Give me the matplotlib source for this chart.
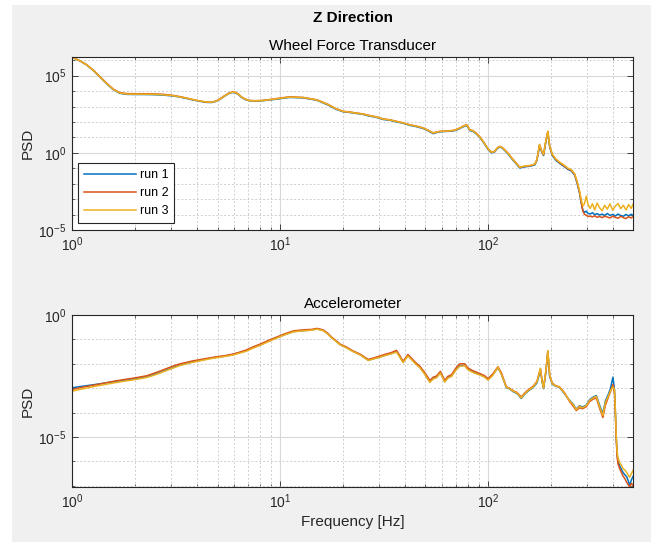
import matplotlib
matplotlib.use("Agg")
import matplotlib.pyplot as plt
from matplotlib.patches import Rectangle
from matplotlib.ticker import FixedLocator, LogFormatterSciNotation, NullFormatter
import numpy as np

plt.rcParams['font.family'] = ['Liberation Sans', 'DejaVu Sans']
plt.rcParams['mathtext.fontset'] = 'custom'
plt.rcParams['mathtext.rm'] = 'Liberation Sans'
plt.rcParams['mathtext.it'] = 'Liberation Sans:italic'
plt.rcParams['mathtext.bf'] = 'Liberation Sans:bold'

# ---------------- data (log10 of PSD) ----------------
series_labels = ["run 1", "run 2", "run 3"]
series_colors = ["#0072BD", "#D95319", "#EDB120"]

wft_freq = [1.0, 1.08, 1.17, 1.27, 1.36, 1.47, 1.57, 1.69, 1.82, 1.96, 2.2, 2.45, 2.75, 3.06, 3.3,
            3.55, 3.8, 4.11, 4.4, 4.68, 4.9, 5.13, 5.3, 5.52, 5.7, 5.9, 6.08, 6.28, 6.5, 6.76,
            7.15, 7.7, 8.28, 9.25, 10, 11.1, 12.9, 15, 17, 18.5, 20.1, 21.5, 23.3, 25, 26.9,
            29, 31.3, 33.7, 36.3, 39, 42, 45, 48.7, 51.5, 54.5, 56.5, 58.6, 63, 67.9, 71,
            74.5, 76.5, 78.7, 80, 81.7, 84.5, 87.9, 91.3, 95, 100, 104, 107.7, 110.5, 113.8, 117,
            120.3, 125, 129.5, 135, 142, 147, 153, 160, 168, 172, 177, 181, 185, 189, 194,
            198, 204, 212, 221, 230, 243, 252, 261, 268, 276, 281, 286, 291, 297, 303,
            310, 318, 326, 335, 344, 354, 364, 375, 386, 398, 410, 422, 435, 448, 461,
            475, 488, 500]

wft_run1 = [6.19, 5.98, 5.70, 5.30, 4.90, 4.45, 4.10, 3.86, 3.79, 3.78, 3.78, 3.77, 3.74, 3.68, 3.61,
            3.52, 3.43, 3.34, 3.27, 3.26, 3.33, 3.46, 3.60, 3.75, 3.86, 3.91, 3.89, 3.79, 3.61, 3.46,
            3.37, 3.36, 3.38, 3.45, 3.51, 3.59, 3.56, 3.41, 3.10, 2.83, 2.66, 2.62, 2.55, 2.49, 2.38,
            2.30, 2.16, 2.11, 2.00, 1.92, 1.78, 1.70, 1.58, 1.43, 1.24, 1.31, 1.36, 1.39, 1.41, 1.49,
            1.63, 1.70, 1.78, 1.66, 1.44, 1.40, 1.22, 1.00, 0.68, 0.22, 0.00, 0.06, 0.26, 0.38, 0.31,
            0.15, -0.08, -0.35, -0.63, -0.98, -0.94, -0.89, -0.86, -0.78, -0.47, 0.48, 0.08, -0.17, 0.58, 1.33,
            0.38, -0.18, -0.48, -0.68, -0.84, -1.08, -1.18, -1.44, -1.95, -2.65, -3.25, -3.72, -3.86, -3.78, -3.93,
            -3.96, -3.88, -4.01, -3.94, -4.03, -3.97, -4.06, -3.93, -4.06, -3.99, -4.09, -3.97, -4.06, -4.11, -3.99,
            -4.09, -3.98, -4.06]

wft_run2 = [6.19, 5.99, 5.72, 5.33, 4.93, 4.49, 4.14, 3.90, 3.84, 3.83, 3.83, 3.82, 3.79, 3.72, 3.64,
            3.55, 3.45, 3.36, 3.29, 3.28, 3.35, 3.49, 3.63, 3.78, 3.89, 3.94, 3.92, 3.82, 3.64, 3.49,
            3.39, 3.38, 3.40, 3.48, 3.55, 3.63, 3.59, 3.44, 3.14, 2.87, 2.69, 2.65, 2.58, 2.52, 2.42,
            2.33, 2.20, 2.14, 2.04, 1.95, 1.82, 1.74, 1.62, 1.47, 1.29, 1.35, 1.39, 1.42, 1.45, 1.53,
            1.67, 1.75, 1.83, 1.72, 1.50, 1.44, 1.27, 1.04, 0.72, 0.26, 0.04, 0.10, 0.30, 0.42, 0.35,
            0.20, -0.03, -0.30, -0.58, -0.93, -0.90, -0.85, -0.83, -0.74, -0.43, 0.53, 0.12, -0.13, 0.63, 1.38,
            0.42, -0.13, -0.43, -0.64, -0.80, -1.04, -1.13, -1.40, -1.88, -2.58, -3.22, -3.78, -3.98, -4.05, -4.12,
            -4.10, -4.15, -4.08, -4.18, -4.12, -4.20, -4.11, -4.16, -4.22, -4.10, -4.18, -4.24, -4.12, -4.20, -4.26,
            -4.14, -4.22, -4.12]

wft_run3 = [6.19, 5.98, 5.71, 5.31, 4.91, 4.47, 4.12, 3.88, 3.81, 3.80, 3.80, 3.79, 3.76, 3.70, 3.62,
            3.54, 3.45, 3.36, 3.29, 3.28, 3.34, 3.47, 3.61, 3.76, 3.87, 3.93, 3.91, 3.81, 3.63, 3.48,
            3.38, 3.37, 3.39, 3.47, 3.53, 3.61, 3.58, 3.43, 3.13, 2.86, 2.68, 2.64, 2.57, 2.51, 2.41,
            2.32, 2.19, 2.13, 2.03, 1.94, 1.81, 1.73, 1.61, 1.46, 1.28, 1.34, 1.38, 1.41, 1.44, 1.52,
            1.66, 1.73, 1.81, 1.70, 1.48, 1.43, 1.25, 1.03, 0.71, 0.25, 0.03, 0.09, 0.29, 0.41, 0.34,
            0.19, -0.04, -0.31, -0.59, -0.94, -0.89, -0.84, -0.82, -0.73, -0.42, 0.55, 0.13, -0.10, 0.65, 1.40,
            0.45, -0.10, -0.40, -0.60, -0.76, -1.00, -1.10, -1.35, -1.82, -2.50, -3.05, -3.45, -3.30, -2.80, -3.35,
            -3.60, -3.30, -3.70, -3.25, -3.55, -3.75, -3.40, -3.65, -3.30, -3.72, -3.45, -3.28, -3.62, -3.40, -3.70,
            -3.35, -3.60, -3.30]

acc_freq = [1.0, 1.12, 1.26, 1.41, 1.57, 1.76, 1.96, 2.12, 2.28, 2.45, 2.64, 2.85, 3.06, 3.3, 3.55,
            3.8, 4.11, 4.5, 4.95, 5.4, 5.94, 6.4, 6.89, 7.4, 7.98, 8.9, 9.78, 10.7, 11.6, 12.5,
            13.4, 14.2, 15, 15.6, 16.1, 16.9, 17.7, 18.5, 19.4, 20.8, 22.4, 24.3, 26.5, 28.2, 30.2,
            32, 34, 36.3, 37.6, 39, 41.2, 43.5, 45, 47, 49.5, 52.5, 54.5, 56.5, 59, 61.9,
            64, 66.7, 70, 73.1, 77.3, 79.5, 81.7, 86, 91.3, 96, 100, 105, 111.7, 116, 122.5,
            127, 132, 138, 144.6, 150, 157, 164.6, 172, 178.7, 182, 185, 190, 194, 198, 204,
            212, 221, 233, 247, 256, 266, 275, 285, 297, 308, 320, 332, 345, 357, 367,
            378, 388, 399, 406, 410, 414, 418, 422, 430, 438, 446, 455, 464, 472, 480,
            490, 500]

acc_run1 = [-2.98, -2.92, -2.86, -2.80, -2.74, -2.68, -2.63, -2.58, -2.53, -2.45, -2.36, -2.25, -2.15, -2.05, -1.98,
            -1.92, -1.86, -1.79, -1.73, -1.69, -1.62, -1.54, -1.46, -1.34, -1.23, -1.05, -0.91, -0.78, -0.68, -0.65,
            -0.63, -0.61, -0.57, -0.60, -0.63, -0.76, -0.93, -1.06, -1.21, -1.33, -1.49, -1.63, -1.85, -1.79, -1.72,
            -1.65, -1.59, -1.50, -1.70, -1.93, -1.66, -1.87, -2.00, -2.14, -2.40, -2.74, -2.60, -2.55, -2.36, -2.73,
            -2.57, -2.50, -2.24, -2.08, -2.06, -2.20, -2.27, -2.36, -2.44, -2.52, -2.65, -2.47, -2.16, -2.42, -2.98,
            -3.03, -3.14, -3.22, -3.42, -3.25, -3.10, -2.98, -2.78, -2.25, -2.72, -3.02, -2.32, -1.52, -2.52, -2.84,
            -2.92, -2.97, -3.22, -3.50, -3.64, -3.86, -3.72, -3.77, -3.70, -3.47, -3.37, -3.30, -3.72, -4.05, -3.52,
            -3.28, -3.02, -2.55, -3.08, -4.00, -5.05, -5.70, -6.00, -6.18, -6.32, -6.45, -6.55, -6.62, -6.78, -6.98,
            -6.75, -6.60]

acc_run2 = [-3.05, -2.96, -2.88, -2.80, -2.72, -2.65, -2.59, -2.54, -2.49, -2.40, -2.30, -2.19, -2.09, -2.00, -1.94,
            -1.88, -1.83, -1.77, -1.71, -1.67, -1.60, -1.52, -1.43, -1.31, -1.20, -1.02, -0.88, -0.75, -0.65, -0.62,
            -0.60, -0.59, -0.55, -0.58, -0.61, -0.74, -0.91, -1.04, -1.19, -1.31, -1.47, -1.61, -1.82, -1.76, -1.68,
            -1.61, -1.55, -1.45, -1.66, -1.90, -1.62, -1.83, -1.96, -2.10, -2.35, -2.68, -2.55, -2.50, -2.31, -2.68,
            -2.52, -2.45, -2.18, -2.00, -2.00, -2.15, -2.22, -2.31, -2.40, -2.48, -2.61, -2.43, -2.12, -2.38, -2.94,
            -3.00, -3.10, -3.18, -3.36, -3.20, -3.05, -2.93, -2.72, -2.20, -2.68, -2.98, -2.28, -1.48, -2.48, -2.80,
            -2.90, -2.95, -3.18, -3.55, -3.72, -3.92, -3.80, -3.84, -3.76, -3.55, -3.45, -3.40, -3.85, -4.20, -3.70,
            -3.40, -3.15, -2.85, -3.20, -4.05, -5.10, -5.80, -6.10, -6.30, -6.45, -6.60, -6.70, -6.85, -6.95, -7.05,
            -6.90, -7.00]

acc_run3 = [-3.12, -3.03, -2.94, -2.86, -2.79, -2.72, -2.66, -2.61, -2.56, -2.48, -2.38, -2.27, -2.17, -2.07, -2.00,
            -1.94, -1.88, -1.81, -1.75, -1.70, -1.64, -1.56, -1.48, -1.36, -1.25, -1.07, -0.92, -0.79, -0.69, -0.66,
            -0.64, -0.62, -0.58, -0.61, -0.64, -0.77, -0.94, -1.07, -1.22, -1.34, -1.50, -1.64, -1.86, -1.80, -1.73,
            -1.66, -1.60, -1.52, -1.72, -1.95, -1.68, -1.89, -2.02, -2.16, -2.42, -2.76, -2.62, -2.57, -2.38, -2.75,
            -2.59, -2.52, -2.26, -2.10, -2.08, -2.22, -2.29, -2.38, -2.46, -2.54, -2.67, -2.49, -2.14, -2.44, -2.96,
            -3.02, -3.12, -3.20, -3.40, -3.23, -3.08, -2.96, -2.74, -2.18, -2.70, -3.00, -2.26, -1.46, -2.46, -2.82,
            -2.91, -2.96, -3.20, -3.52, -3.66, -3.88, -3.74, -3.80, -3.72, -3.50, -3.40, -3.33, -3.78, -4.12, -3.58,
            -3.35, -3.10, -2.95, -3.05, -3.90, -4.95, -5.60, -5.85, -6.05, -6.15, -6.30, -6.35, -6.45, -6.55, -6.65,
            -6.50, -6.35]

wft_runs = [wft_run1, wft_run2, wft_run3]
acc_runs = [acc_run1, acc_run2, acc_run3]

# ---------------- figure ----------------
W, H = 651, 542
fig = plt.figure(figsize=(W / 100, H / 100), dpi=100, facecolor="white")
fig.patches.append(Rectangle((12 / W, 0), 1 - 12 / W, 1 - 5 / H, transform=fig.transFigure,
                             facecolor="#f0f0f0", edgecolor="none", zorder=-10))

ax_l = 72.3 / W
ax_w = (633.3 - 72.3) / W
ax1 = fig.add_axes([ax_l, 1 - 230 / H, ax_w, (230 - 57.3) / H])
ax2 = fig.add_axes([ax_l, 1 - 487 / H, ax_w, (487 - 315) / H])

txt_col = "#262626"


def style_axes(ax, ylim, ymajor, ylabel):
    ax.set_xscale("log")
    ax.set_yscale("log")
    ax.set_xlim(1, 500)
    ax.set_ylim(*ylim)
    ax.set_facecolor("white")
    ax.xaxis.set_major_locator(FixedLocator([1, 10, 100]))
    ax.xaxis.set_minor_locator(FixedLocator([m * d for d in (1, 10, 100) for m in range(2, 10)]))
    ax.yaxis.set_major_locator(FixedLocator(ymajor))
    lo, hi = int(np.floor(np.log10(ylim[0]))), int(np.ceil(np.log10(ylim[1])))
    ax.yaxis.set_minor_locator(FixedLocator([10.0 ** k for k in range(lo, hi + 1)]))
    ax.xaxis.set_major_formatter(LogFormatterSciNotation())
    ax.yaxis.set_major_formatter(LogFormatterSciNotation())
    ax.xaxis.set_minor_formatter(NullFormatter())
    ax.yaxis.set_minor_formatter(NullFormatter())
    ax.grid(True, which="major", color="#d9d9d9", linewidth=0.8, linestyle="-")
    ax.grid(True, which="minor", color="#cfcfcf", linewidth=0.7, linestyle=(0, (2, 2)))
    ax.set_axisbelow(True)
    ax.tick_params(which="both", direction="in", top=True, right=True, colors=txt_col,
                   labelsize=10, pad=4)
    ax.tick_params(which="major", length=4, width=0.6)
    ax.tick_params(which="minor", length=2.5, width=0.5)
    for s in ax.spines.values():
        s.set_color(txt_col)
        s.set_linewidth(0.8)
    ax.set_ylabel(ylabel, fontsize=11, color=txt_col, labelpad=3)


for vals, lab, col in zip(wft_runs, series_labels, series_colors):
    ax1.plot(wft_freq, 10.0 ** np.array(vals), color=col, lw=1.1, label=lab)
for vals, lab, col in zip(acc_runs, series_labels, series_colors):
    ax2.plot(acc_freq, 10.0 ** np.array(vals), color=col, lw=1.1, label=lab)

style_axes(ax1, (1e-5, 10 ** 6.19), [1e-5, 1e0, 1e5], "PSD")
style_axes(ax2, (10 ** -7.05, 1.0), [1e-5, 1e0], "PSD")

ax1.set_title("Wheel Force Transducer", fontsize=11, color="black", pad=5)
ax2.set_title("Accelerometer", fontsize=11, color="black", pad=5)
ax2.set_xlabel("Frequency [Hz]", fontsize=11, color=txt_col, labelpad=3)
fig.text((72.3 + 633.3) / 2 / W, 1 - 18 / H, "Z Direction", ha="center", va="center",
         fontsize=11, fontweight="bold", color="black")

leg = ax1.legend(loc="lower left", bbox_to_anchor=(0.01, 0.04), fontsize=9,
                 handlelength=4.2, handletextpad=0.3, labelspacing=0.5, borderpad=0.45,
                 fancybox=False, framealpha=1.0, edgecolor=txt_col, borderaxespad=0)
leg.get_frame().set_linewidth(0.8)

fig.savefig("out.png", dpi=100, facecolor=fig.get_facecolor())
